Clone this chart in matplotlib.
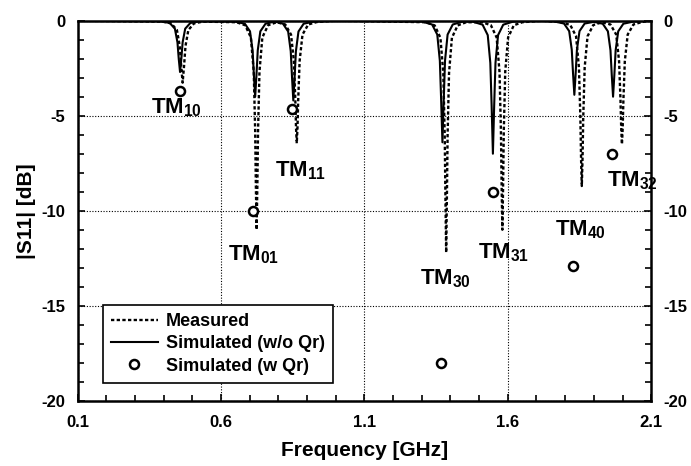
import numpy as np
import matplotlib.pyplot as plt
from matplotlib.lines import Line2D
from matplotlib.ticker import MultipleLocator

plt.rcParams['font.family'] = ['Liberation Sans', 'DejaVu Sans']
plt.rcParams['font.weight'] = 'bold'
plt.rcParams['axes.unicode_minus'] = False
plt.rcParams['mathtext.fontset'] = 'custom'
plt.rcParams['mathtext.rm'] = 'Liberation Sans:bold'
plt.rcParams['mathtext.default'] = 'rm'

# measured |S11| (dB)
meas_f = [0.100, 0.396, 0.426, 0.446, 0.456, 0.461, 0.466, 0.471, 0.476, 0.486, 0.506, 0.536,
          0.654, 0.684, 0.704, 0.714, 0.719, 0.7215, 0.724, 0.7265, 0.729, 0.734, 0.744, 0.764, 0.794,
          0.824, 0.844, 0.854, 0.859, 0.8615, 0.864, 0.8665, 0.869, 0.874, 0.884, 0.904, 0.934,
          1.000, 1.315, 1.345, 1.365, 1.375, 1.380, 1.3825, 1.385, 1.3875, 1.390, 1.395, 1.405, 1.425, 1.455,
          1.511, 1.541, 1.561, 1.571, 1.576, 1.5785, 1.581, 1.5835, 1.586, 1.591, 1.601, 1.621, 1.651,
          1.720, 1.788, 1.818, 1.838, 1.848, 1.853, 1.8555, 1.858, 1.8605, 1.863, 1.868, 1.878, 1.898, 1.928,
          1.958, 1.978, 1.988, 1.993, 1.9955, 1.998, 2.0005, 2.003, 2.008, 2.018, 2.038, 2.068, 2.100]
meas_db = [0.0, -0.05, -0.14, -0.49, -1.33, -2.38, -3.26, -2.38, -1.33, -0.49, -0.14, -0.05,
           -0.08, -0.24, -0.88, -2.68, -5.80, -8.76, -11.0, -8.76, -5.80, -2.68, -0.88, -0.24, -0.08,
           -0.20, -0.73, -2.12, -4.19, -5.65, -6.45, -5.65, -4.19, -2.12, -0.73, -0.20, -0.07,
           0.0, -0.08, -0.25, -0.90, -2.76, -6.06, -9.37, -12.2, -9.37, -6.06, -2.76, -0.90, -0.25, -0.08,
           -0.08, -0.24, -0.88, -2.68, -5.80, -8.76, -11.0, -8.76, -5.80, -2.68, -0.88, -0.24, -0.08,
           0.0, -0.08, -0.23, -0.82, -2.46, -5.11, -7.30, -8.70, -7.30, -5.11, -2.46, -0.82, -0.23, -0.08,
           -0.20, -0.73, -2.13, -4.21, -5.69, -6.50, -5.69, -4.21, -2.13, -0.73, -0.20, -0.07, 0.0]

# simulated without Qr
sim_f = [0.100, 0.387, 0.421, 0.439, 0.448, 0.4525, 0.457, 0.4615, 0.466, 0.475, 0.493, 0.527,
         0.649, 0.683, 0.701, 0.710, 0.7145, 0.719, 0.7235, 0.728, 0.737, 0.755, 0.785,
         0.790, 0.816, 0.834, 0.843, 0.8475, 0.852, 0.8565, 0.861, 0.870, 0.888, 0.922,
         1.000, 1.302, 1.336, 1.354, 1.363, 1.3675, 1.372, 1.3765, 1.381, 1.390, 1.408, 1.442,
         1.478, 1.512, 1.530, 1.539, 1.5435, 1.548, 1.5525, 1.557, 1.566, 1.584, 1.618,
         1.700, 1.762, 1.796, 1.814, 1.823, 1.8275, 1.832, 1.8365, 1.841, 1.850, 1.868, 1.900,
         1.931, 1.949, 1.958, 1.9625, 1.967, 1.9715, 1.976, 1.985, 2.003, 2.037, 2.100]
sim_db = [0.0, -0.03, -0.12, -0.42, -1.14, -2.01, -2.70, -2.01, -1.14, -0.42, -0.12, -0.03,
          -0.05, -0.16, -0.56, -1.56, -2.86, -4.00, -2.86, -1.56, -0.56, -0.16, -0.05,
          -0.05, -0.16, -0.57, -1.61, -2.98, -4.20, -2.98, -1.61, -0.57, -0.16, -0.05,
          0.0, -0.05, -0.20, -0.73, -2.11, -4.17, -6.40, -4.17, -2.11, -0.73, -0.20, -0.05,
          -0.05, -0.21, -0.76, -2.22, -4.44, -7.00, -4.44, -2.22, -0.76, -0.21, -0.05,
          0.0, -0.04, -0.15, -0.55, -1.53, -2.79, -3.90, -2.79, -1.53, -0.55, -0.15, -0.06,
          -0.16, -0.56, -1.56, -2.86, -4.00, -2.86, -1.56, -0.56, -0.16, -0.05, 0.0]

# simulated with Qr (single points)
qr_f = [0.456, 0.713, 0.847, 1.368, 1.547, 1.827, 1.963]
qr_db = [-3.7, -10.0, -4.65, -18.0, -9.0, -12.9, -7.0]

modes = ['10', '01', '11', '30', '31', '40', '32']
label_f = [0.443, 0.715, 0.879, 1.382, 1.584, 1.853, 2.034]
label_db = [-4.6, -12.3, -7.9, -13.6, -12.2, -11.0, -8.4]

fig = plt.figure(figsize=(6.91, 4.66), dpi=100)
ax = fig.add_axes([0.1124, 0.140, 0.830, 0.8156])

ax.grid(True, which='major', ls=(0, (1, 1.5)), color='k', lw=0.8)
ax.set_axisbelow(True)

ax.plot(meas_f, meas_db, color='k', lw=1.7, ls=(0, (1.4, 1.0)))
ax.plot(sim_f, sim_db, color='k', lw=1.5)
ax.plot(qr_f, qr_db, ls='none', marker='o', ms=6.5, mfc='white', mec='k', mew=1.8)

for m, x, y in zip(modes, label_f, label_db):
    ax.text(x, y, 'TM$_{%s}$' % m, fontsize=16, fontweight='bold', ha='center', va='center')

ax.set_xlim(0.1, 2.1)
ax.set_ylim(-20, 0)
ax.set_xticks([0.1, 0.6, 1.1, 1.6, 2.1])
ax.set_yticks([0, -5, -10, -15, -20])
ax.xaxis.set_minor_locator(MultipleLocator(0.1))
ax.yaxis.set_minor_locator(MultipleLocator(1))
ax.tick_params(which='both', direction='in', right=True, labelright=True, labelsize=12, width=1.2)
ax.tick_params(which='major', length=5)
ax.tick_params(which='minor', length=4)
ax.tick_params(axis='x', which='major', pad=10)
ax.tick_params(axis='y', which='major', pad=9)
for s in ax.spines.values():
    s.set_linewidth(1.8)

ax.set_xlabel('Frequency [GHz]', fontsize=15, fontweight='bold', labelpad=8)
ax.set_ylabel('|S11| [dB]', fontsize=15, fontweight='bold', labelpad=4)

handles = [Line2D([], [], color='k', lw=1.7, ls=(0, (1.4, 1.0))),
           Line2D([], [], color='k', lw=1.5),
           Line2D([], [], ls='none', marker='o', ms=6.5, mfc='white', mec='k', mew=1.8)]
leg = ax.legend(handles, ['Measured', 'Simulated (w/o Qr)', 'Simulated (w Qr)'],
                loc='lower left', bbox_to_anchor=(0.0436, 0.047), borderaxespad=0,
                fancybox=False, edgecolor='k', framealpha=1, fontsize=13,
                handlelength=2.6, handletextpad=0.45, labelspacing=0.3, borderpad=0.45)
leg.get_frame().set_linewidth(1.2)

fig.savefig('out.png', dpi=100)
